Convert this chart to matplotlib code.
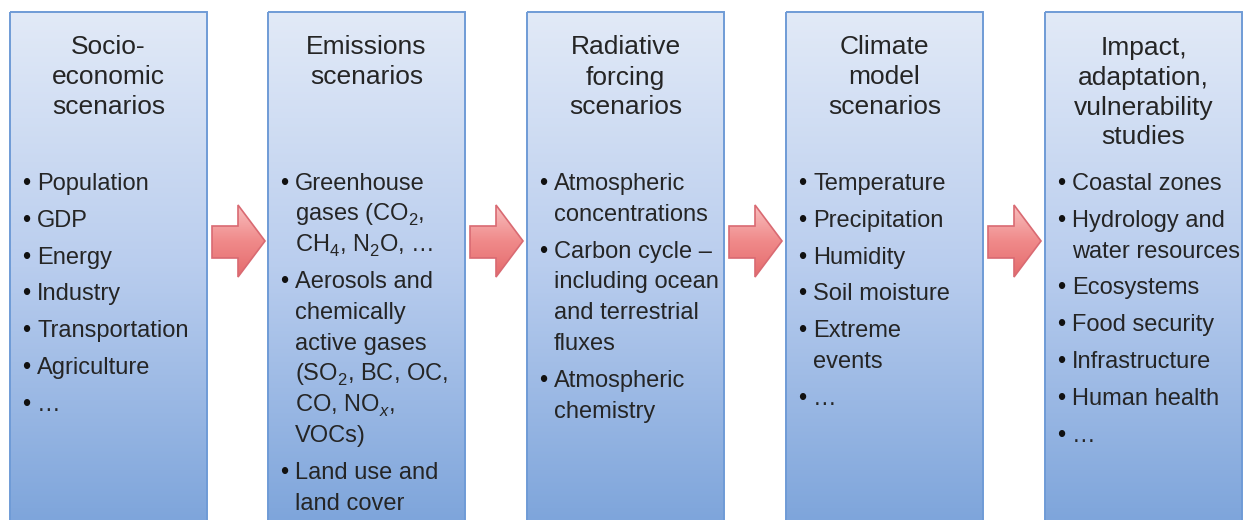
import numpy as np
import matplotlib
matplotlib.use("Agg")
import matplotlib.pyplot as plt
from matplotlib.patches import Rectangle, Polygon
from matplotlib.colors import LinearSegmentedColormap

try:
    import matplotlib._mathtext as _mt
    _mt.FontConstantsBase.sub1 = 0.42
    _mt.FontConstantsBase.sub2 = 0.55
except Exception:
    pass

plt.rcParams['font.family'] = ['Liberation Sans', 'DejaVu Sans']
plt.rcParams['mathtext.fontset'] = 'custom'
plt.rcParams['mathtext.rm'] = 'Liberation Sans'
plt.rcParams['mathtext.it'] = 'Liberation Sans:italic'
plt.rcParams['mathtext.default'] = 'rm'

# ---- content ----
titles = [
    ["Socio-", "economic", "scenarios"],
    ["Emissions", "scenarios"],
    ["Radiative", "forcing", "scenarios"],
    ["Climate", "model", "scenarios"],
    ["Impact,", "adaptation,", "vulnerability", "studies"],
]
items = [
    [["Population"], ["GDP"], ["Energy"], ["Industry"], ["Transportation"],
     ["Agriculture"], ["…"]],
    [["Greenhouse", "gases (CO$_2$,", "CH$_4$, N$_2$O, …"],
     ["Aerosols and", "chemically", "active gases", "(SO$_2$, BC, OC,",
      "CO, NO$_{\\mathit{x}}$,", "VOCs)"],
     ["Land use and", "land cover"]],
    [["Atmospheric", "concentrations"],
     ["Carbon cycle –", "including ocean", "and terrestrial", "fluxes"],
     ["Atmospheric", "chemistry"]],
    [["Temperature"], ["Precipitation"], ["Humidity"], ["Soil moisture"],
     ["Extreme", "events"], ["…"]],
    [["Coastal zones"], ["Hydrology and", "water resources"], ["Ecosystems"],
     ["Food security"], ["Infrastructure"], ["Human health"], ["…"]],
]

# ---- layout ----
W, H = 1247, 520
fig = plt.figure(figsize=(W / 100, H / 100), dpi=100)
ax = fig.add_axes([0, 0, 1, 1])
ax.set_xlim(0, W)
ax.set_ylim(H, 0)
ax.axis('off')

box_lefts = [10, 268, 527, 786, 1045]
box_w = 197
box_top = 12
box_bot = 522

box_cmap = LinearSegmentedColormap.from_list(
    "box", ["#e2eaf7", "#b9cdee", "#7ea5db"])
arrow_cmap = LinearSegmentedColormap.from_list(
    "arr", ["#f8c0c0", "#f08a8a", "#e46a6c"])
grad = np.linspace(0, 1, 256).reshape(-1, 1)

text_col = "#252525"
title_fs = 19
item_fs = 17
title_y0 = 45
title_dy = 30
item_y0 = 181
line_dy = 30.8
item_gap = 6

for k, x0 in enumerate(box_lefts):
    rect = Rectangle((x0, box_top), box_w, box_bot - box_top,
                     facecolor='none', edgecolor='#6f9bd6', lw=1.4, zorder=3)
    im = ax.imshow(grad, cmap=box_cmap, aspect='auto',
                   extent=(x0, x0 + box_w, box_bot, box_top), zorder=1)
    ax.add_patch(rect)
    im.set_clip_path(rect)

    cx = x0 + box_w / 2
    for i, t in enumerate(titles[k]):
        ax.text(cx, title_y0 + i * title_dy + 9.5, t, fontsize=title_fs,
                color=text_col, ha='center', va='baseline', zorder=4)

    y = item_y0
    for it in items[k]:
        ax.text(x0 + 12, y + 9, "•", fontsize=item_fs, color="#111111",
                ha='left', va='baseline', zorder=4)
        for j, line in enumerate(it):
            ax.text(x0 + 27, y + 9, line, fontsize=item_fs, color=text_col,
                    ha='left', va='baseline', zorder=4)
            y += line_dy
        y += item_gap

    # arrow to next box
    if k < len(box_lefts) - 1:
        ax0 = x0 + 202
        pts = [(ax0, 226), (ax0 + 26, 226), (ax0 + 26, 205), (ax0 + 53, 241),
               (ax0 + 26, 277), (ax0 + 26, 258), (ax0, 258)]
        poly = Polygon(pts, closed=True, facecolor='none',
                       edgecolor='#d96a72', lw=1.2, zorder=3)
        aim = ax.imshow(grad, cmap=arrow_cmap, aspect='auto',
                        extent=(ax0, ax0 + 54, 278, 204), zorder=2)
        ax.add_patch(poly)
        aim.set_clip_path(poly)

fig.savefig("out.png", dpi=100)
